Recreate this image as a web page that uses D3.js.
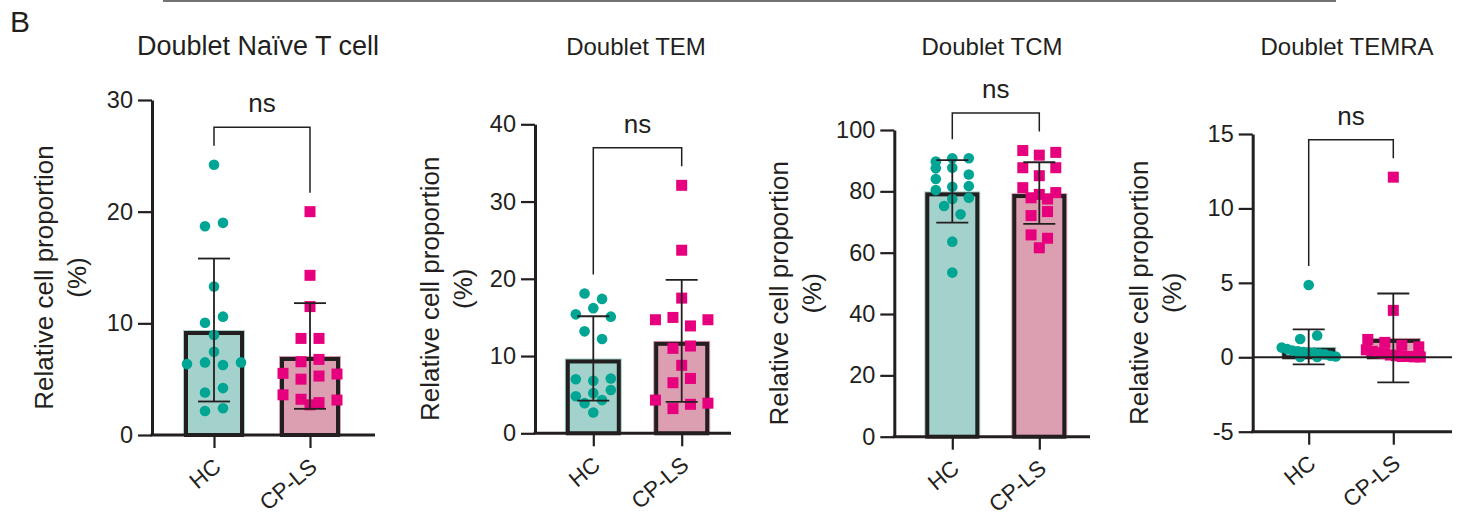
<!DOCTYPE html>
<html>
<head>
<meta charset="utf-8">
<script src="https://cdn.jsdelivr.net/npm/d3@7"></script>
<style>
  body { margin: 0; background: #fff; }
  svg { display: block; font-family: Arial, "Liberation Sans", Helvetica, sans-serif; }
</style>
</head>
<body>
<div id="chart"></div>
<script>
// ---- data ----
const groups = ["HC", "CP-LS"];
const titles = ["Doublet Naïve T cell", "Doublet TEM", "Doublet TCM", "Doublet TEMRA"];
const yDomains = [[0, 30], [0, 40], [0, 100], [-5, 15]];
const yTicks = [[0, 10, 20, 30], [0, 10, 20, 30, 40], [0, 20, 40, 60, 80, 100], [-5, 0, 5, 10, 15]];
const yLabel = ["Relative cell proportion", "(%)"];
const sigLabel = "ns";

const naiveHC   = [24.2, 18.7, 19.0, 13.3, 10.05, 10.6, 8.95, 7.46, 6.35, 6.5, 6.27, 6.5, 3.8, 4.2, 2.15, 2.4];
const naiveCPLS = [20.0, 14.3, 11.5, 8.65, 8.65, 6.56, 6.77, 5.52, 5.0, 5.28, 5.46, 3.6, 2.7, 3.2, 2.9, 3.13];
const temHC     = [18.1, 17.4, 15.4, 16.2, 15.1, 13.2, 12.2, 7.0, 6.8, 7.1, 4.8, 5.2, 5.6, 3.9, 4.3, 2.7];
const temCPLS   = [32.1, 23.7, 17.5, 14.7, 15.0, 13.9, 14.7, 11.0, 11.3, 8.8, 6.55, 7.1, 4.3, 3.2, 3.75, 3.9];
const tcmHC     = [89.7, 90.8, 90.8, 87.5, 87.7, 85.5, 84.0, 81.5, 80.4, 81.7, 77.5, 77.9, 75.2, 72.5, 63.6, 53.5];
const tcmCPLS   = [93.3, 91.8, 92.7, 87.7, 85.1, 87.7, 81.2, 77.9, 79.0, 77.5, 79.6, 72.1, 73.4, 65.8, 64.7, 61.6];
const temraHC   = [4.86, 1.23, 1.46, 0.65, 0.55, 0.45, 0.4, 0.35, 0.3, 0.3, 0.25, 0.2, 0.1, 0.05, 0.02, 0.02];
const temraCPLS = [12.1, 3.15, 1.2, 1.0, 0.8, 0.7, 0.5, 0.4, 0.3, 0.25, 0.15, 0.1, 0.05, 0.05, 0.03, 0.02];

const panelValues = [[naiveHC, naiveCPLS], [temHC, temCPLS], [tcmHC, tcmCPLS], [temraHC, temraCPLS]];

// ---- layout / style ----
const width = 1481, height = 518;
const ink = "#231f20";
const pointColor = ["#00a693", "#e6007e"];
const barColor = ["#a2d2cb", "#dc9fb1"];

const layout = [
  {axisX: 152,    xEnd: 375,  yBottom: 435,   yTop: 100,   c0: 214,    c1: 310,    barW: 62, step: 18,   labelX: 53,   titleX: 258,  titleSize: 27},
  {axisX: 535,    xEnd: 731,  yBottom: 433.3, yTop: 124.3, c0: 593.3,  c1: 681.7,  barW: 57, step: 17.5, labelX: 439,  titleX: 636,  titleSize: 24},
  {axisX: 894.3,  xEnd: 1090, yBottom: 436.7, yTop: 130,   c0: 952.3,  c1: 1039.3, barW: 56, step: 16.5, labelX: 788,  titleX: 992,  titleSize: 24},
  {axisX: 1252.7, xEnd: 1452, yBottom: 431.7, yTop: 134,   c0: 1308.7, c1: 1393.3, barW: 55, step: 17,   labelX: 1148, titleX: 1347, titleSize: 24}
];

let svg = d3.select("#chart").append("svg")
    .attr("width", width)
    .attr("height", height)
    .style("background-color", "#fff");

// panel letter and top rule
svg.append("text")
    .attr("x", 10).attr("y", 32)
    .attr("font-size", 30)
    .attr("fill", ink)
    .text("B");

svg.append("line")
    .attr("x1", 163).attr("x2", 1336)
    .attr("y1", 1).attr("y2", 1)
    .attr("stroke", "#444").attr("stroke-width", 1.5);

// GraphPad-like scatter: bin points into rows, spread each row around the center
function swarm(values, y, step, maxHalf) {
    const T = 9;
    const pts = values.map((v, i) => ({v: v, i: i, py: y(v)}));
    const sorted = pts.slice().sort((a, b) => b.v - a.v || a.i - b.i);
    const rows = [];
    let row = null;
    sorted.forEach(p => {
        if (row && Math.abs(p.py - row.start) <= T) row.items.push(p);
        else { row = {start: p.py, items: [p]}; rows.push(row); }
    });
    rows.forEach(r => {
        r.items.sort((a, b) => a.i - b.i);
        const n = r.items.length;
        const s = n > 1 ? Math.min(step, 2 * maxHalf / (n - 1)) : 0;
        r.items.forEach((p, k) => { p.dx = (k - (n - 1) / 2) * s; });
    });
    return pts;
}

function drawPanel(p) {
    const L = layout[p];
    const vals = panelValues[p];
    const g = svg.append("g").attr("class", "panel");

    const y = d3.scaleLinear().domain(yDomains[p]).range([L.yBottom, L.yTop]);
    const x = d3.scalePoint().domain(groups).range([L.c0, L.c1]);

    const stats = vals.map(v => ({mean: d3.mean(v), sd: d3.deviation(v), max: d3.max(v)}));

    // bars: pale fill, black border drawn just inside it
    groups.forEach((grp, k) => {
        const cx = x(grp), top = y(stats[k].mean), base = y(0);
        const y0 = Math.min(top, base), h = Math.abs(base - top);
        g.append("rect")
            .attr("x", cx - L.barW / 2).attr("width", L.barW)
            .attr("y", y0).attr("height", h)
            .attr("fill", barColor[k]);
        g.append("rect")
            .attr("x", cx - L.barW / 2 + 3).attr("width", L.barW - 6)
            .attr("y", y0 + 3).attr("height", Math.max(0, h - 3))
            .attr("fill", "none")
            .attr("stroke", ink).attr("stroke-width", 4);
    });

    // points
    groups.forEach((grp, k) => {
        const pts = swarm(vals[k], y, L.step, 27);
        const cx = x(grp);
        if (k === 0) {
            g.selectAll(null).data(pts).enter().append("circle")
                .attr("cx", d => cx + d.dx)
                .attr("cy", d => d.py)
                .attr("r", 5.3)
                .attr("fill", pointColor[k]);
        } else {
            g.selectAll(null).data(pts).enter().append("rect")
                .attr("x", d => cx + d.dx - 5.5)
                .attr("y", d => d.py - 5.5)
                .attr("width", 11).attr("height", 11)
                .attr("fill", pointColor[k]);
        }
    });

    // error bars (mean ± SD)
    groups.forEach((grp, k) => {
        const cx = x(grp), hi = y(stats[k].mean + stats[k].sd), lo = y(stats[k].mean - stats[k].sd);
        g.append("line").attr("x1", cx).attr("x2", cx).attr("y1", hi).attr("y2", lo)
            .attr("stroke", ink).attr("stroke-width", 1.8);
        [hi, lo].forEach(yy => {
            g.append("line").attr("x1", cx - 16).attr("x2", cx + 16).attr("y1", yy).attr("y2", yy)
                .attr("stroke", ink).attr("stroke-width", 1.8);
        });
    });

    // zero baseline when the axis goes below zero
    if (yDomains[p][0] < 0) {
        g.append("line")
            .attr("x1", L.axisX).attr("x2", L.xEnd)
            .attr("y1", y(0)).attr("y2", y(0))
            .attr("stroke", ink).attr("stroke-width", 2);
    }

    // y axis (plain hyphen for negatives, as in the figure)
    const yAxis = g.append("g")
        .attr("transform", "translate(" + L.axisX + ",0)")
        .call(d3.axisLeft(y).tickValues(yTicks[p]).tickFormat(d => String(d))
            .tickSize(14).tickSizeOuter(0).tickPadding(5));
    yAxis.select(".domain").attr("stroke", ink).attr("stroke-width", 3);
    yAxis.selectAll(".tick line").attr("stroke", ink).attr("stroke-width", 2.2);
    yAxis.selectAll(".tick text")
        .attr("font-size", 23.5)
        .attr("font-family", "Arial, 'Liberation Sans', sans-serif")
        .attr("fill", ink);

    // x axis
    const yBase = y(yDomains[p][0]);
    g.append("line")
        .attr("x1", L.axisX - 1.5).attr("x2", L.xEnd)
        .attr("y1", yBase).attr("y2", yBase)
        .attr("stroke", ink).attr("stroke-width", 3);
    const xAxis = g.append("g")
        .attr("transform", "translate(0," + yBase + ")")
        .call(d3.axisBottom(x).tickSize(13).tickSizeOuter(0));
    xAxis.select(".domain").remove();
    xAxis.selectAll(".tick line").attr("stroke", ink).attr("stroke-width", 2.2);
    xAxis.selectAll(".tick text")
        .attr("font-size", 22.5)
        .attr("font-family", "Arial, 'Liberation Sans', sans-serif")
        .attr("fill", ink)
        .attr("x", 0).attr("y", 0).attr("dy", 0)
        .attr("text-anchor", "end")
        .attr("transform", "translate(8,34) rotate(-40)");

    // y label
    const midY = (L.yTop + L.yBottom) / 2 + 10;
    yLabel.forEach((t, i) => {
        g.append("text")
            .attr("transform", "translate(" + (L.labelX + i * 33) + "," + midY + ") rotate(-90)")
            .attr("text-anchor", "middle")
            .attr("font-size", 26)
            .attr("fill", ink)
            .text(t);
    });

    // title
    g.append("text")
        .attr("x", L.titleX).attr("y", 55)
        .attr("text-anchor", "middle")
        .attr("font-size", L.titleSize)
        .attr("fill", ink)
        .text(titles[p]);

    // significance bracket
    const leftEnd = y(stats[0].max) - 19, rightEnd = y(stats[1].max) - 19;
    const by = Math.min(leftEnd, rightEnd) - 18.5;
    g.append("path")
        .attr("d", "M" + x(groups[0]) + "," + leftEnd + "V" + by + "H" + x(groups[1]) + "V" + rightEnd)
        .attr("fill", "none")
        .attr("stroke", ink).attr("stroke-width", 1.5);
    g.append("text")
        .attr("x", (x(groups[0]) + x(groups[1])) / 2).attr("y", by - 15)
        .attr("text-anchor", "middle")
        .attr("font-size", 26)
        .attr("fill", ink)
        .text(sigLabel);
}

d3.range(4).forEach(drawPanel);
</script>
</body>
</html>
